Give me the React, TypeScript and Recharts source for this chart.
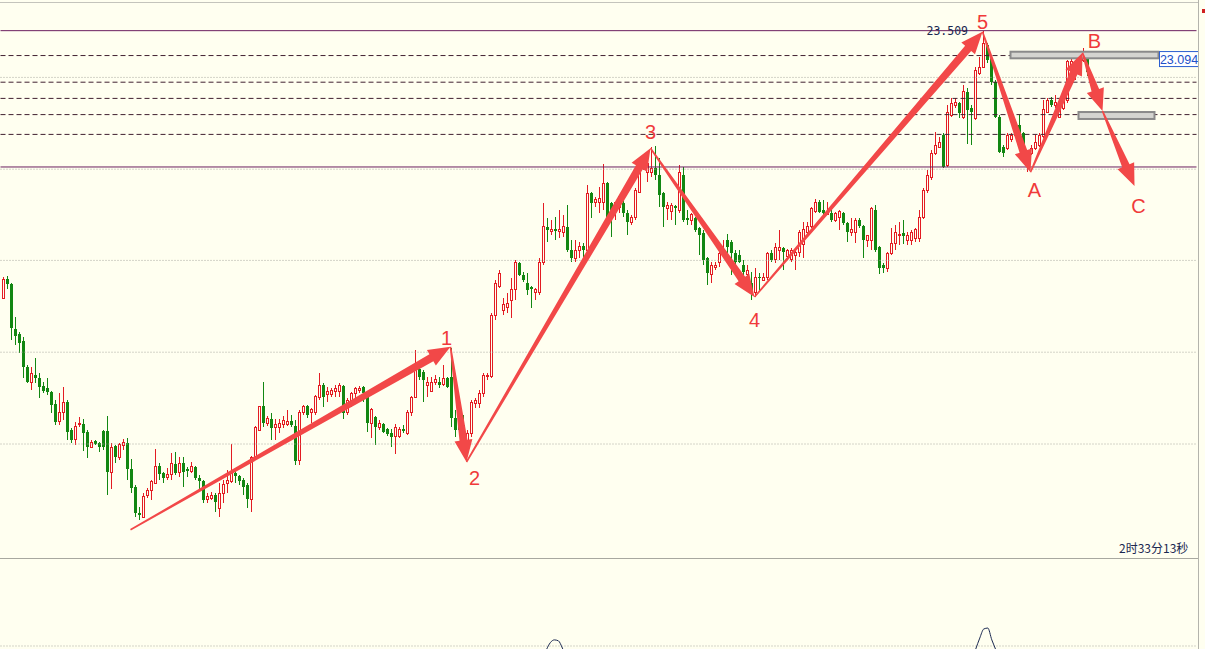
import {
  ComposedChart, Bar, XAxis, YAxis, ReferenceLine, ReferenceDot,
  LineChart, Line,
} from 'recharts'

// --- colours ---
const BG = '#fffff0'
const UP = '#e31c23'
const DOWN = '#128712'
const ARROW = '#f24848'
const LABEL = '#f03a3a'
const FIB_SOLID = '#6b1f5f'
const FIB_DASH = '#402030'
const GRID = '#a8a8a0'
const INK = '#1a2850'

// --- data ---
// one row per bar: [open, high, low, close]
const CANDLES: [number, number, number, number][] = [
  [19.05, 19.40, 19.04, 19.37], [19.37, 19.42, 19.20, 19.29], [19.29, 19.30, 18.35, 18.55], [18.54, 18.74, 18.27, 18.42],
  [18.45, 18.49, 18.14, 18.30], [18.34, 18.40, 17.72, 17.90], [17.90, 17.94, 17.64, 17.65], [17.65, 17.90, 17.52, 17.80],
  [17.77, 18.05, 17.64, 17.72], [17.72, 17.80, 17.39, 17.57], [17.59, 17.65, 17.47, 17.50], [17.55, 17.72, 17.44, 17.49],
  [17.49, 17.50, 17.14, 17.27], [17.29, 17.35, 16.94, 16.99], [16.99, 17.47, 16.94, 17.15], [17.15, 17.57, 17.02, 17.32],
  [17.32, 17.35, 16.69, 16.82], [16.85, 16.89, 16.64, 16.69], [16.69, 16.99, 16.60, 16.92], [16.94, 17.07, 16.90, 16.97],
  [16.95, 17.04, 16.50, 16.80], [16.82, 16.85, 16.39, 16.57], [16.57, 16.69, 16.55, 16.64], [16.67, 16.69, 16.60, 16.62],
  [16.64, 16.65, 16.49, 16.57], [16.84, 16.85, 16.52, 16.57], [16.84, 17.09, 15.77, 16.15], [16.15, 16.64, 15.87, 16.57],
  [16.59, 16.60, 16.30, 16.40], [16.40, 16.64, 16.35, 16.62], [16.60, 16.70, 16.52, 16.64], [16.64, 16.72, 16.02, 16.20],
  [16.20, 16.37, 15.80, 15.89], [15.90, 15.94, 15.40, 15.47], [15.47, 15.57, 15.35, 15.44], [15.40, 15.80, 15.40, 15.75],
  [15.77, 15.89, 15.72, 15.85], [15.84, 16.02, 15.69, 15.99], [15.97, 16.54, 15.95, 16.25], [16.25, 16.30, 16.02, 16.12],
  [16.14, 16.15, 15.97, 16.05], [16.07, 16.22, 16.02, 16.12], [16.12, 16.47, 16.02, 16.29], [16.29, 16.49, 16.10, 16.14],
  [16.14, 16.40, 16.07, 16.30], [16.30, 16.40, 15.90, 16.15], [16.20, 16.24, 16.07, 16.17], [16.17, 16.32, 16.14, 16.24],
  [16.24, 16.25, 16.02, 16.05], [16.05, 16.10, 15.85, 16.00], [16.00, 16.02, 15.64, 15.69], [15.69, 15.80, 15.64, 15.74],
  [15.72, 15.82, 15.69, 15.77], [15.77, 15.80, 15.49, 15.65], [15.54, 15.97, 15.40, 15.80], [15.80, 16.02, 15.64, 15.95],
  [15.97, 16.19, 15.80, 16.02], [16.00, 16.62, 15.97, 16.14], [16.14, 16.19, 15.97, 16.09], [16.09, 16.10, 15.94, 16.00],
  [16.02, 16.05, 15.77, 15.90], [15.94, 15.97, 15.55, 15.70], [15.70, 16.42, 15.49, 16.39], [16.40, 16.92, 16.35, 16.89],
  [16.85, 17.25, 16.84, 17.24], [17.25, 17.65, 16.90, 16.97], [16.97, 17.09, 16.92, 17.04], [17.04, 17.14, 16.69, 16.89],
  [16.89, 17.04, 16.69, 16.94], [16.90, 17.04, 16.80, 16.97], [16.94, 17.09, 16.89, 17.02], [16.95, 17.19, 16.92, 17.00],
  [17.00, 17.10, 16.90, 16.94], [16.92, 17.02, 16.27, 16.34], [16.35, 17.19, 16.27, 17.14], [17.14, 17.27, 17.10, 17.24],
  [17.25, 17.27, 17.05, 17.10], [17.14, 17.22, 16.97, 17.19], [17.15, 17.44, 17.10, 17.42], [17.40, 17.80, 17.35, 17.60],
  [17.60, 17.64, 17.24, 17.40], [17.44, 17.57, 17.32, 17.49], [17.45, 17.55, 17.40, 17.52], [17.49, 17.60, 17.40, 17.55],
  [17.49, 17.64, 17.40, 17.59], [17.59, 17.60, 17.04, 17.14], [17.14, 17.39, 17.10, 17.35], [17.35, 17.49, 17.24, 17.47],
  [17.47, 17.57, 17.35, 17.54], [17.52, 17.59, 17.47, 17.55], [17.57, 17.59, 17.32, 17.47], [17.47, 17.49, 16.82, 16.97],
  [16.97, 17.22, 16.72, 17.19], [17.07, 17.09, 16.60, 16.90], [16.90, 17.02, 16.85, 16.97], [16.95, 16.97, 16.80, 16.82],
  [16.87, 16.89, 16.75, 16.79], [16.80, 16.87, 16.57, 16.74], [16.75, 16.95, 16.45, 16.89], [16.74, 16.90, 16.72, 16.87],
  [16.87, 16.94, 16.80, 16.84], [16.80, 17.19, 16.77, 17.14], [17.14, 17.42, 17.09, 17.40], [17.40, 18.19, 17.39, 17.87],
  [17.87, 17.90, 17.69, 17.74], [17.82, 17.85, 17.32, 17.69], [17.60, 17.74, 17.40, 17.65], [17.50, 17.74, 17.49, 17.65],
  [17.64, 17.77, 17.60, 17.69], [17.65, 17.74, 17.55, 17.60], [17.62, 17.94, 17.59, 17.72], [17.72, 17.74, 17.55, 17.57],
  [17.74, 18.22, 16.90, 17.05], [17.05, 17.19, 16.74, 16.85], [17.14, 17.27, 16.77, 16.85], [16.94, 17.10, 16.57, 16.69],
  [16.65, 16.85, 16.55, 16.80], [16.80, 17.35, 16.74, 17.32], [17.30, 17.39, 17.22, 17.34], [17.30, 17.52, 17.22, 17.47],
  [17.47, 17.80, 17.40, 17.77], [17.74, 17.80, 17.69, 17.77], [17.74, 18.80, 17.72, 18.77], [18.77, 19.35, 18.69, 19.30],
  [19.24, 19.52, 19.22, 19.47], [18.85, 19.05, 18.77, 18.94], [18.90, 19.14, 18.80, 18.97], [19.02, 19.39, 18.72, 19.19],
  [19.19, 19.69, 19.02, 19.64], [19.64, 19.65, 19.42, 19.44], [19.44, 19.49, 19.32, 19.35], [19.30, 19.47, 19.10, 19.19],
  [19.24, 19.25, 18.89, 19.20], [19.15, 19.22, 19.02, 19.19], [19.15, 19.72, 19.10, 19.65], [19.64, 20.64, 19.60, 20.24],
  [20.24, 20.39, 19.99, 20.19], [20.17, 20.35, 20.10, 20.20], [20.20, 20.40, 20.02, 20.17], [20.17, 20.52, 20.05, 20.20],
  [20.15, 20.44, 20.07, 20.24], [20.24, 20.60, 19.82, 19.85], [19.85, 20.02, 19.65, 19.72], [19.72, 20.02, 19.65, 19.85],
  [19.84, 19.99, 19.72, 19.92], [19.92, 19.97, 19.72, 19.85], [19.85, 20.94, 19.77, 20.80], [20.80, 20.82, 20.39, 20.64],
  [20.64, 20.74, 20.57, 20.69], [20.64, 20.90, 20.47, 20.72], [20.64, 21.29, 20.52, 20.97], [20.97, 20.99, 20.30, 20.32],
  [20.64, 20.65, 20.07, 20.39], [20.52, 20.65, 20.35, 20.64], [20.57, 20.77, 20.47, 20.74], [20.64, 20.69, 20.40, 20.47],
  [20.47, 20.52, 20.10, 20.32], [20.32, 20.44, 20.27, 20.39], [20.39, 20.89, 20.35, 20.85], [20.82, 21.35, 20.80, 21.32],
  [21.24, 21.35, 21.19, 21.32], [21.15, 21.35, 20.99, 21.30], [21.15, 21.57, 21.07, 21.22], [21.22, 21.59, 21.02, 21.10],
  [21.10, 21.39, 20.57, 20.77], [20.80, 20.82, 20.24, 20.57], [20.55, 20.65, 20.35, 20.60], [20.49, 20.64, 20.35, 20.59],
  [20.59, 20.60, 20.27, 20.55], [20.52, 21.27, 20.47, 21.14], [21.10, 21.24, 20.32, 20.35], [20.39, 20.52, 20.27, 20.35],
  [20.35, 20.47, 20.27, 20.44], [20.39, 20.40, 20.15, 20.19], [20.22, 20.24, 19.77, 20.10], [20.14, 20.19, 19.60, 19.69],
  [19.72, 19.74, 19.27, 19.47], [19.44, 19.65, 19.30, 19.60], [19.57, 19.65, 19.52, 19.60], [19.64, 19.85, 19.57, 19.79],
  [19.79, 20.02, 19.74, 19.85], [20.02, 20.12, 19.74, 19.90], [19.99, 20.02, 19.44, 19.80], [19.80, 19.85, 19.55, 19.65],
  [19.77, 19.85, 19.64, 19.65], [19.60, 19.69, 19.32, 19.49], [19.44, 19.60, 19.27, 19.52], [19.30, 19.49, 19.02, 19.15],
  [19.15, 19.55, 19.07, 19.40], [19.40, 19.47, 19.15, 19.39], [19.35, 19.47, 19.34, 19.40], [19.39, 19.82, 19.35, 19.80],
  [19.80, 19.85, 19.65, 19.69], [19.69, 19.97, 19.64, 19.89], [19.85, 20.19, 19.69, 19.90], [19.89, 19.90, 19.52, 19.82],
  [19.75, 19.87, 19.69, 19.85], [19.69, 19.89, 19.65, 19.85], [19.77, 19.85, 19.52, 19.82], [19.82, 20.19, 19.74, 20.15],
  [19.94, 20.32, 19.72, 20.19], [20.15, 20.32, 20.07, 20.25], [20.24, 20.57, 20.22, 20.55], [20.49, 20.70, 20.47, 20.65],
  [20.65, 20.69, 20.47, 20.49], [20.52, 20.69, 20.44, 20.47], [20.45, 20.65, 20.44, 20.49], [20.47, 20.52, 20.32, 20.35],
  [20.35, 20.49, 20.32, 20.47], [20.40, 20.52, 20.19, 20.49], [20.47, 20.49, 20.27, 20.30], [20.30, 20.32, 19.99, 20.15],
  [20.15, 20.39, 20.09, 20.20], [20.14, 20.39, 19.97, 20.35], [20.35, 20.39, 20.22, 20.25], [20.25, 20.27, 19.72, 20.02],
  [20.02, 20.10, 19.90, 20.09], [20.02, 20.57, 19.85, 20.55], [20.52, 20.60, 19.82, 19.85], [19.90, 19.92, 19.45, 19.55],
  [19.60, 19.64, 19.47, 19.55], [19.55, 19.82, 19.49, 19.80], [19.80, 20.22, 19.77, 19.97], [19.97, 20.27, 19.85, 20.14],
  [20.09, 20.32, 19.94, 20.12], [20.14, 20.35, 19.95, 20.09], [20.02, 20.15, 19.94, 20.10], [20.02, 20.19, 19.94, 20.15],
  [20.04, 20.22, 19.99, 20.20], [20.05, 20.52, 19.99, 20.39], [20.39, 20.89, 20.37, 20.85], [20.85, 21.19, 20.80, 21.10],
  [21.07, 21.52, 21.02, 21.47], [21.47, 21.82, 21.44, 21.60], [21.57, 21.74, 21.55, 21.65], [21.77, 21.80, 21.22, 21.24],
  [21.27, 22.27, 21.24, 22.14], [22.10, 22.39, 22.07, 22.30], [22.27, 22.39, 22.22, 22.32], [22.30, 22.32, 22.05, 22.14],
  [22.07, 22.60, 22.04, 22.49], [22.49, 22.55, 21.62, 22.19], [22.22, 22.27, 21.60, 22.15], [22.05, 22.90, 22.02, 22.85],
  [22.80, 23.07, 22.77, 22.90], [22.90, 23.509, 22.89, 23.30], [23.27, 23.30, 22.97, 23.02], [23.05, 23.07, 22.60, 22.65],
  [22.65, 22.69, 22.05, 22.07], [22.07, 22.10, 21.47, 21.49], [21.57, 21.60, 21.40, 21.47], [21.55, 21.80, 21.52, 21.77],
  [21.69, 21.80, 21.65, 21.77], [21.77, 21.97, 21.74, 21.94], [21.94, 22.10, 21.77, 21.80], [21.80, 21.82, 21.35, 21.40],
  [21.35, 21.52, 21.15, 21.49], [21.47, 21.60, 21.44, 21.55], [21.55, 21.77, 21.52, 21.64], [21.60, 21.80, 21.57, 21.77],
  [21.74, 22.35, 21.72, 22.19], [22.15, 22.39, 22.14, 22.35], [22.35, 22.40, 22.24, 22.27], [22.27, 22.44, 22.22, 22.32],
  [22.07, 22.30, 22.05, 22.25], [22.22, 22.40, 22.19, 22.35], [22.35, 23.02, 22.30, 22.99], [22.90, 23.05, 22.72, 22.99],
  [22.82, 22.99, 22.69, 22.90], [22.85, 23.07, 22.77, 23.02], [23.02, 23.22, 22.99, 23.14], [23.05, 23.10, 22.75, 22.82],
]

// empty bar slots after the last bar (chart shift)
const SLOTS = 299

// price levels
const PRICE_MIN = 14.72
const PRICE_MAX = 24.02
const HIGH_LEVEL = 23.509
const LOW_LEVEL = 21.237
const FIB_LEVELS = [23.094, 22.65, 22.38, 22.11, 21.78]
const GRID_LEVELS = [22.73, 21.2, 19.68, 18.15, 16.62]
const LAST_PRICE = 23.094

// wave path: bar index + price
const WAVE = [
  { k: 32, p: 15.19 },
  { k: 112, p: 18.24 },
  { k: 116, p: 16.32 },
  { k: 162, p: 21.55 },
  { k: 188, p: 19.07 },
  { k: 245, p: 23.49 },
  { k: 257, p: 21.15 },
  { k: 270, p: 23.14 },
  { k: 275, p: 22.17 },
  { k: 283, p: 20.92 },
]

const WAVE_LABELS = [
  { t: '1', k: 111, p: 18.39 },
  { t: '2', k: 118, p: 16.05 },
  { t: '3', k: 162, p: 21.82 },
  { t: '4', k: 188, p: 18.69 },
  { t: '5', k: 245, p: 23.65 },
  { t: 'A', k: 258, p: 20.85 },
  { t: 'B', k: 273, p: 23.34 },
  { t: 'C', k: 284, p: 20.59 },
]

// grey target boxes around B
const ZONES = [
  { k1: 252, k2: 289, p1: 23.048, p2: 23.158 },
  { k1: 269, k2: 288, p1: 22.037, p2: 22.153 },
]

// lower oscillator, only the parts that reach into the panel
const OSC: [number, number][] = [
  [135, -12], [136, -1], [137, 7], [138, 10], [139, 9], [140, 1], [141, -10],
  [242, -14], [243, 0], [244, 12], [245, 22], [246, 23], [247, 10], [248, -1], [249, -14],
]
const OSC_LEVEL = 3.3

const rows = Array.from({ length: SLOTS }, (_, i) => {
  const c = CANDLES[i]
  const o = OSC.find((p) => p[0] === i)
  return {
    i,
    range: c ? [c[2], c[1]] : null,
    o: c ? c[0] : null,
    h: c ? c[1] : null,
    l: c ? c[2] : null,
    c: c ? c[3] : null,
    osc: o ? o[1] : null,
  }
})

// --- shapes ---
function Candle(props: any) {
  const { x, y, width, height, payload } = props
  if (!payload || payload.o == null || !Number.isFinite(y) || !Number.isFinite(height)) return null
  const { o, h, l, c } = payload
  const top = Math.min(y, y + height)
  const bottom = Math.max(y, y + height)
  const at = (v: number) => top + ((h - v) / (h - l)) * (bottom - top)
  const cx = Math.round(x + width / 2 - 0.5) + 0.5
  const bTop = at(Math.max(o, c))
  const bBot = at(Math.min(o, c))
  const bh = Math.max(bBot - bTop, 1)
  if (c >= o) {
    return (
      <g shapeRendering="crispEdges">
        <line x1={cx} x2={cx} y1={top} y2={bTop} stroke={UP} />
        <line x1={cx} x2={cx} y1={bTop + bh} y2={bottom} stroke={UP} />
        <rect x={cx - 1} y={bTop} width={2} height={bh} fill={BG} stroke={UP} />
      </g>
    )
  }
  return (
    <g shapeRendering="crispEdges">
      <line x1={cx} x2={cx} y1={top} y2={bottom} stroke={DOWN} />
      <rect x={cx - 1.5} y={bTop} width={3} height={bh} fill={DOWN} />
    </g>
  )
}

// tapered arrow: thin at the start, thick with a head at the end
const arrowShape = (props: any) => {
  const { x1, y1, x2, y2 } = props
  const dx = x2 - x1
  const dy = y2 - y1
  const len = Math.hypot(dx, dy) || 1
  const ux = dx / len
  const uy = dy / len
  const nx = -uy
  const ny = ux
  const head = Math.min(22, len * 0.45)
  const bx = x2 - ux * head
  const by = y2 - uy * head
  const pts = [
    [x1 + nx * 0.8, y1 + ny * 0.8],
    [bx + nx * 4, by + ny * 4],
    [bx + nx * 9, by + ny * 9],
    [x2, y2],
    [bx - nx * 9, by - ny * 9],
    [bx - nx * 4, by - ny * 4],
    [x1 - nx * 0.8, y1 - ny * 0.8],
  ]
  return <polygon points={pts.map((p) => p.join(',')).join(' ')} fill={ARROW} />
}

// box spanned by the diagonal of the segment
const zoneShape = (props: any) => {
  const { x1, y1, x2, y2 } = props
  const x = Math.min(x1, x2)
  const y = Math.min(y1, y2)
  return (
    <rect x={x} y={y} width={Math.abs(x2 - x1)} height={Math.abs(y2 - y1)}
      fill="#d4d4d0" stroke="#8a8a8a" strokeWidth={2} />
  )
}

const waveLabel = (text: string) => (props: any) => (
  <text
    x={props.cx}
    y={props.cy}
    textAnchor="middle"
    dominantBaseline="central"
    fill={LABEL}
    fontSize={20}
    fontFamily="'Liberation Sans', Arial, sans-serif"
  >
    {text}
  </text>
)

const highLabel = (props: any) => (
  <text x={props.cx - 14.5} y={props.cy + 4.5} textAnchor="end" fill={INK} fontSize={11.5}
    fontFamily="'DejaVu Sans Mono', monospace">
    {HIGH_LEVEL.toFixed(3)}
  </text>
)

const lastPriceLabel = (props: any) => (
  <g>
    <rect x={props.cx + 1} y={props.cy - 4} width={39} height={15} fill="#ffffff" stroke="#2c5fd0" />
    <text x={props.cx + 20.5} y={props.cy + 8} textAnchor="middle" fill="#2050c8" fontSize={12.5}
      fontFamily="'Liberation Sans', Arial, sans-serif">
      {LAST_PRICE.toFixed(3)}
    </text>
  </g>
)

const margin = { top: 0, right: 8.5, bottom: 0, left: 0.5 }

export default function App() {
  return (
    <div style={{ position: 'absolute', left: 0, top: 0, width: 1205, height: 649, background: BG, overflow: 'hidden' }}>
      <div style={{ position: 'absolute', left: 0, top: 0 }}>
        <ComposedChart width={1205} height={558} data={rows} margin={margin}>
          <XAxis dataKey="i" type="category" hide />
          <YAxis type="number" domain={[PRICE_MIN, PRICE_MAX]} allowDataOverflow hide />
          {GRID_LEVELS.map((v) => (
            <ReferenceLine key={`g${v}`} y={v} stroke={GRID} strokeDasharray="1 2" />
          ))}
          <ReferenceLine y={HIGH_LEVEL} stroke={FIB_SOLID} />
          <ReferenceLine y={LOW_LEVEL} stroke={FIB_SOLID} />
          {FIB_LEVELS.map((v) => (
            <ReferenceLine key={`f${v}`} y={v} stroke={FIB_DASH} strokeDasharray="5 3" />
          ))}
          <Bar dataKey="range" barSize={3} shape={Candle} isAnimationActive={false} />
          {ZONES.map((z, idx) => (
            <ReferenceLine
              key={`z${idx}`}
              segment={[{ x: z.k1, y: z.p2 }, { x: z.k2, y: z.p1 }]}
              position="middle"
              ifOverflow="visible"
              shape={zoneShape}
            />
          ))}
          {WAVE.slice(1).map((pt, idx) => (
            <ReferenceLine
              key={`w${idx}`}
              segment={[{ x: WAVE[idx].k, y: WAVE[idx].p }, { x: pt.k, y: pt.p }]}
              position="middle"
              ifOverflow="visible"
              shape={arrowShape}
            />
          ))}
          {WAVE_LABELS.map((lb) => (
            <ReferenceDot key={lb.t} x={lb.k} y={lb.p} r={0} ifOverflow="visible" shape={waveLabel(lb.t)} />
          ))}
          <ReferenceDot x={245} y={HIGH_LEVEL} r={0} ifOverflow="visible" shape={highLabel} />
          <ReferenceDot x={289} y={LAST_PRICE} r={0} ifOverflow="visible" shape={lastPriceLabel} />
        </ComposedChart>
      </div>

      <div style={{ position: 'absolute', left: 0, top: 558 }}>
        <LineChart width={1205} height={91} data={rows} margin={margin}>
          <XAxis dataKey="i" type="category" hide />
          <YAxis type="number" domain={[0, 100]} allowDataOverflow hide />
          <ReferenceLine y={OSC_LEVEL} stroke={GRID} strokeDasharray="1 2" />
          <Line dataKey="osc" type="monotone" stroke={INK} strokeWidth={1} dot={false}
            connectNulls={false} isAnimationActive={false} />
        </LineChart>
      </div>

      {/* panel borders */}
      <div style={{ position: 'absolute', left: 0, top: 2, width: 1198, height: 1, background: '#c4c4bc' }} />
      <div style={{ position: 'absolute', left: 0, top: 558, width: 1198, height: 1, background: '#a8a8a0' }} />
      <div style={{ position: 'absolute', left: 1198, top: 0, width: 1, height: 649, background: '#b4b4ac' }} />
      <div style={{ position: 'absolute', left: 1202, top: 9, width: 3, height: 4, background: '#d02020' }} />

      <div style={{
        position: 'absolute', left: 1119, top: 540, width: 80, height: 16, lineHeight: '16px',
        fontSize: 12, color: INK, fontFamily: "'Noto Sans CJK SC', sans-serif", whiteSpace: 'nowrap',
      }}>
        2时33分13秒
      </div>
    </div>
  )
}
